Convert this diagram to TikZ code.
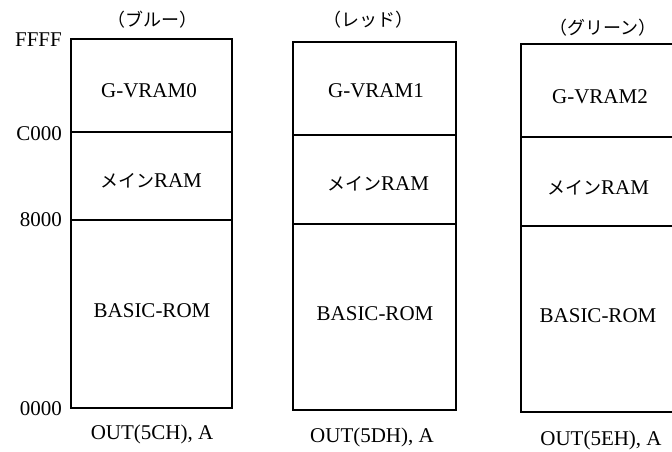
\documentclass[tikz,border=0pt]{standalone}
\usepackage{fontspec}
\setmainfont{Liberation Serif}
\newfontfamily\cjk{Noto Sans CJK JP}
\begin{document}
\begin{tikzpicture}[x=1pt,y=-1pt,
  region/.style={draw, line width=1.7pt, anchor=north west, inner sep=0pt, outer sep=0pt},
  txt/.style={anchor=base, inner sep=0pt, font=\fontsize{21}{24}\selectfont},
  addr/.style={anchor=base east, inner sep=0pt, font=\fontsize{21}{24}\selectfont},
  plane/.style={inner sep=0pt, font=\cjk\fontsize{18}{20}\selectfont}]
\useasboundingbox (0,0) rectangle (672,452);
\clip (0,0) rectangle (672,452);
\newcommand{\mainram}{{\cjk\fontsize{18}{20}\selectfont メイン}RAM}

% blue plane
\node[region, minimum width=161pt, minimum height=93pt]  (g0) at (71,39)  {};
\node[region, minimum width=161pt, minimum height=88pt]  (m0) at (71,132) {};
\node[region, minimum width=161pt, minimum height=188pt] (r0) at (71,220) {};
\node[txt] (g0t) at (149,97)  {G-VRAM0};
\node[txt] (m0t) at (151,187) {\mainram};
\node[txt] (r0t) at (152,317) {BASIC-ROM};
\node[plane] (t0) at (152,20) {（ブルー）};
\node[txt]  (o0) at (152,439) {OUT(5CH), A};

% red plane
\node[region, minimum width=163pt, minimum height=93pt]  (g1) at (293,42)  {};
\node[region, minimum width=163pt, minimum height=89pt]  (m1) at (293,135) {};
\node[region, minimum width=163pt, minimum height=186pt] (r1) at (293,224) {};
\node[txt] (g1t) at (376,97)  {G-VRAM1};
\node[txt] (m1t) at (378,190) {\mainram};
\node[txt] (r1t) at (375,320) {BASIC-ROM};
\node[plane] (t1) at (368,20) {（レッド）};
\node[txt]  (o1) at (372,442) {OUT(5DH), A};

% green plane
\node[region, minimum width=163pt, minimum height=93pt]  (g2) at (521,44)  {};
\node[region, minimum width=163pt, minimum height=89pt]  (m2) at (521,137) {};
\node[region, minimum width=163pt, minimum height=186pt] (r2) at (521,226) {};
\node[txt] (g2t) at (600,103) {G-VRAM2};
\node[txt] (m2t) at (598,194) {\mainram};
\node[txt] (r2t) at (598,322) {BASIC-ROM};
\node[plane] (t2) at (603,28) {（グリーン）};
\node[txt]  (o2) at (601,445) {OUT(5EH), A};

% address scale
\node[addr] (aF) at (62,47)  {FFFF};
\node[addr] (aC) at (62,140) {C000};
\node[addr] (a8) at (62,226) {8000};
\node[addr] (a0) at (62,415) {0000};
\end{tikzpicture}
\end{document}
